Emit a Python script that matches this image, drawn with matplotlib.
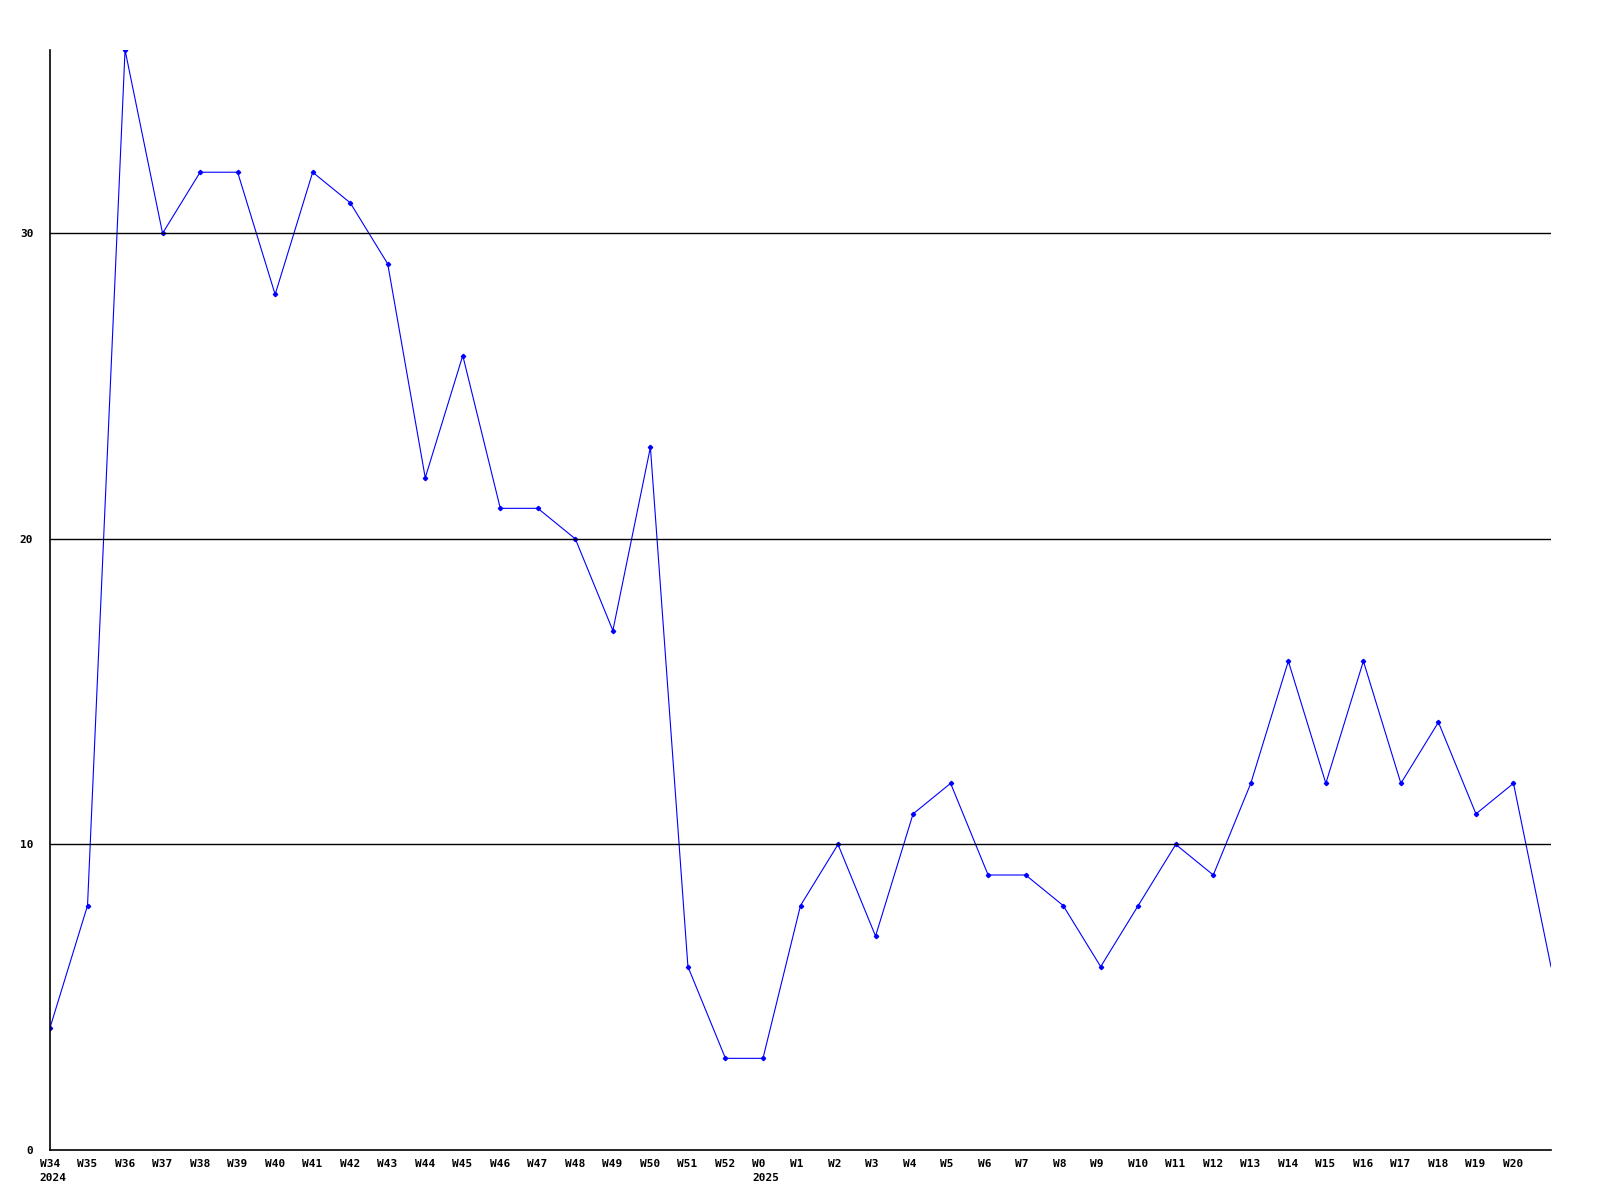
import matplotlib
matplotlib.use("Agg")
import matplotlib.pyplot as plt
import matplotlib.transforms as mtransforms

weeks = ["W34", "W35", "W36", "W37", "W38", "W39", "W40", "W41", "W42", "W43",
         "W44", "W45", "W46", "W47", "W48", "W49", "W50", "W51", "W52", "W0",
         "W1", "W2", "W3", "W4", "W5", "W6", "W7", "W8", "W9", "W10",
         "W11", "W12", "W13", "W14", "W15", "W16", "W17", "W18", "W19", "W20", ""]
years = {"W34": "2024", "W0": "2025"}
values = [4, 8, 36, 30, 32, 32, 28, 32, 31, 29,
          22, 26, 21, 21, 20, 17, 23, 6, 3, 3,
          8, 10, 7, 11, 12, 9, 9, 8, 6, 8,
          10, 9, 12, 16, 12, 16, 12, 14, 11, 12, 6]
yticks = [0, 10, 20, 30]

fig = plt.figure(figsize=(16, 12), dpi=100)
ax = fig.add_axes([50 / 1600, 1 - 1150 / 1200, 1501 / 1600, 1100 / 1200])

x = list(range(len(values)))
ax.plot(x, values, color="#0000ff", lw=0.8, marker="D", ms=2.2,
        markevery=list(range(len(values) - 1)))
ax.set_xlim(0, len(values) - 1)
ax.set_ylim(0, 36)

for y in yticks[1:]:
    ax.axhline(y, color="black", lw=1)

for s in ["top", "right"]:
    ax.spines[s].set_visible(False)
for s in ["left", "bottom"]:
    ax.spines[s].set_color("black")
    ax.spines[s].set_linewidth(1.2)

ax.set_xticks([])
ax.set_yticks(yticks)
ax.set_yticklabels([str(v) for v in yticks], fontfamily="DejaVu Sans Mono",
                   fontweight="bold", fontsize=8)
ax.tick_params(axis="y", length=0, pad=12)

font = dict(fontfamily="DejaVu Sans Mono", fontweight="bold", fontsize=8)
trans = mtransforms.blended_transform_factory(ax.transData, ax.transAxes)
trans = trans + mtransforms.ScaledTranslation(-10.5 / 100, 0, fig.dpi_scale_trans)
for i, w in enumerate(weeks):
    if not w:
        continue
    ax.text(i, 0, w, transform=trans + mtransforms.ScaledTranslation(0, -9 / 100, fig.dpi_scale_trans),
            ha="left", va="top", **font)
    if w in years:
        ax.text(i, 0, years[w], transform=trans + mtransforms.ScaledTranslation(0, -23 / 100, fig.dpi_scale_trans),
                ha="left", va="top", **font)

fig.savefig("out.png", dpi=100)
